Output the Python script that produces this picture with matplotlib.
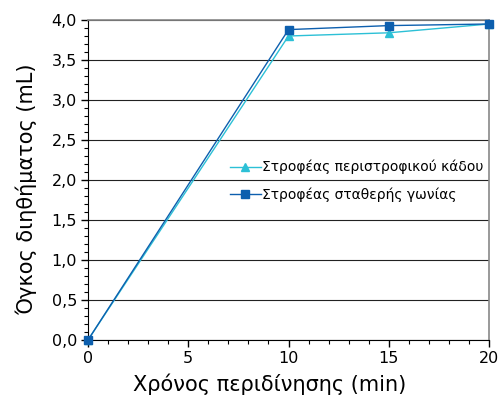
import matplotlib
matplotlib.use('Agg')
import matplotlib.pyplot as plt
from matplotlib.ticker import MultipleLocator, FuncFormatter

# data
time_min = [0, 10, 15, 20]
rotating_bucket = [0.0, 3.80, 3.84, 3.95]
fixed_angle = [0.0, 3.88, 3.93, 3.95]

label_bucket = 'Στροφέας περιστροφικού κάδου'
label_fixed = 'Στροφέας σταθερής γωνίας'

plt.rcParams['font.family'] = ['Verdana', 'DejaVu Sans']

fig = plt.figure(figsize=(5, 4), dpi=100)
ax = fig.add_axes([0.176, 0.15, 0.802, 0.80])

ax.plot(time_min, rotating_bucket, color='#2cc0d6', marker='^', markersize=6,
        linewidth=1.0, label=label_bucket, zorder=3, clip_on=False)
ax.plot(time_min, fixed_angle, color='#0d5fae', marker='s', markersize=6,
        linewidth=1.0, label=label_fixed, zorder=4, clip_on=False)

ax.set_xlim(0, 20)
ax.set_ylim(0, 4)
ax.xaxis.set_major_locator(MultipleLocator(5))
ax.xaxis.set_minor_locator(MultipleLocator(1))
ax.yaxis.set_major_locator(MultipleLocator(0.5))
ax.yaxis.set_minor_locator(MultipleLocator(0.1))
ax.yaxis.set_major_formatter(FuncFormatter(lambda v, p: ('%.1f' % v).replace('.', ',')))

ax.grid(axis='y', which='major', color='#222222', linewidth=0.8)
ax.set_axisbelow(True)

for s in ['top', 'right']:
    ax.spines[s].set_color('#888888')
    ax.spines[s].set_linewidth(1.2)
ax.spines['left'].set_color('black')
ax.spines['bottom'].set_color('black')

ax.tick_params(which='major', direction='out', length=5, width=1, labelsize=11.5, pad=3)
ax.tick_params(which='minor', direction='out', length=3, width=0.8)

ax.set_xlabel('Χρόνος περιδίνησης (min)', fontsize=15, labelpad=6)
ax.xaxis.set_label_coords(0.454, -0.105)
ax.set_ylabel('Όγκος διηθήματος (mL)', fontsize=15)
ax.yaxis.set_label_coords(-0.128, 0.472)

ax.legend(loc='center right', bbox_to_anchor=(1.0, 0.497), frameon=False,
          fontsize=10, handlelength=2.2, handletextpad=0.1, labelspacing=0.95,
          borderaxespad=0.0, markerscale=0.85)

fig.savefig('out.png', dpi=100)
plt.close('all')
